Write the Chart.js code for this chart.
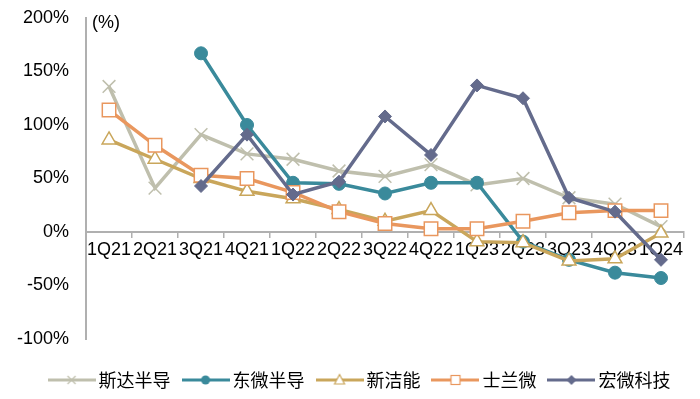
<!DOCTYPE html>
<html>
<head>
<meta charset="utf-8">
<script src="https://cdn.jsdelivr.net/npm/chart.js@4/dist/chart.umd.min.js"></script>
<style>
  body { margin: 0; background: #fff; }
</style>
</head>
<body>
<canvas id="growthChart" width="700" height="399"></canvas>
<script>
const categories = ['1Q21', '2Q21', '3Q21', '4Q21', '1Q22', '2Q22', '3Q22', '4Q22', '1Q23', '2Q23', '3Q23', '4Q23', '1Q24'];
const sidaValues = [136, 41, 91, 73, 68, 57, 52, 63, 44, 50, 32, 26, 5];
const dongweiValues = [null, null, 167, 100, 46, 45, 36, 46, 46, -9, -26, -38, -43];
const xinjienengValues = [86, 68, 50, 38, 31, 21, 10, 20, -9, -10, -27, -25, -1];
const silanValues = [114, 81, 53, 50, 37, 19, 8, 3, 3, 10, 18, 20, 20];
const hongweiValues = [null, null, 43, 91, 35, 47, 108, 72, 137, 125, 32, 19, -26];
const yTicks = [-100, -50, 0, 50, 100, 150, 200];

const latin = "'Liberation Sans', Arial, sans-serif";
const cjk = "'Noto Sans CJK SC', sans-serif";

// small canvas used as legend symbol: line + marker
function legendIcon(color, marker) {
    const c = document.createElement('canvas');
    c.width = 48;
    c.height = 16;
    const g = c.getContext('2d');
    g.strokeStyle = color;
    g.lineWidth = 3;
    g.beginPath();
    g.moveTo(0, 8);
    g.lineTo(48, 8);
    g.stroke();
    g.lineWidth = 1.2;
    g.fillStyle = color;
    if (marker === 'cross') {
        g.beginPath();
        g.moveTo(20, 4); g.lineTo(28, 12);
        g.moveTo(28, 4); g.lineTo(20, 12);
        g.stroke();
    } else if (marker === 'circle') {
        g.beginPath();
        g.arc(24, 8, 4.5, 0, Math.PI * 2);
        g.fill();
    } else if (marker === 'triangle') {
        g.fillStyle = '#fff';
        g.beginPath();
        g.moveTo(24, 2.5); g.lineTo(29, 12); g.lineTo(19, 12); g.closePath();
        g.fill(); g.stroke();
    } else if (marker === 'rect') {
        g.fillStyle = '#fff';
        g.fillRect(19.5, 3.5, 9, 9);
        g.strokeRect(19.5, 3.5, 9, 9);
    } else if (marker === 'diamond') {
        g.beginPath();
        g.moveTo(24, 3); g.lineTo(29, 8); g.lineTo(24, 13); g.lineTo(19, 8); g.closePath();
        g.fill();
    }
    return c;
}

const icons = [
    legendIcon('#bfbfad', 'cross'),
    legendIcon('#3a8a9b', 'circle'),
    legendIcon('#c9a65b', 'triangle'),
    legendIcon('#e9975e', 'rect'),
    legendIcon('#646b8c', 'diamond')
];

const percentLabel = {
    id: 'percentLabel',
    afterLayout(chart) {
        // move legend down/right to sit where the original has it
        const lg = chart.legend;
        lg.left += 20; lg.right += 20;
        lg.top += 15; lg.bottom += 15;
    },
    afterDraw(chart) {
        const ctx = chart.ctx;
        ctx.save();
        ctx.font = '18px ' + latin;
        ctx.fillStyle = '#000';
        ctx.textBaseline = 'middle';
        ctx.fillText('(%)', 92, 23);
        ctx.restore();
    }
};

const ctx = document.getElementById('growthChart').getContext('2d');
const growthChart = new Chart(ctx, {
    type: 'line',
    data: {
        labels: categories,
        datasets: [{
            label: '斯达半导',
            data: sidaValues,
            borderColor: '#bfbfad',
            backgroundColor: '#bfbfad',
            borderWidth: 3.5,
            pointStyle: 'crossRot',
            pointRadius: 9,
            pointBorderWidth: 1.5,
            order: 5
        }, {
            label: '东微半导',
            data: dongweiValues,
            borderColor: '#3a8a9b',
            backgroundColor: '#3a8a9b',
            borderWidth: 3.5,
            pointStyle: 'circle',
            pointRadius: 6.5,
            pointBorderWidth: 1,
            order: 4
        }, {
            label: '新洁能',
            data: xinjienengValues,
            borderColor: '#c9a65b',
            backgroundColor: '#ffffff',
            borderWidth: 3.5,
            pointStyle: 'triangle',
            pointRadius: 8,
            pointBorderWidth: 1.5,
            order: 3
        }, {
            label: '士兰微',
            data: silanValues,
            borderColor: '#e9975e',
            backgroundColor: '#ffffff',
            borderWidth: 3.5,
            pointStyle: 'rect',
            pointRadius: 9.5,
            pointBorderWidth: 1.5,
            order: 2
        }, {
            label: '宏微科技',
            data: hongweiValues,
            borderColor: '#646b8c',
            backgroundColor: '#646b8c',
            borderWidth: 3.5,
            pointStyle: 'rectRot',
            pointRadius: 6.5,
            pointBorderWidth: 1,
            order: 1
        }]
    },
    options: {
        responsive: false,
        animation: false,
        layout: {
            padding: { top: 18, left: 0, right: 16, bottom: 15 }
        },
        scales: {
            x: {
                type: 'category',
                position: { y: 0 },
                offset: true,
                afterFit: (scale) => {
                    scale.paddingLeft = 0;
                    scale.paddingRight = 0;
                },
                grid: {
                    display: true,
                    offset: true,
                    drawOnChartArea: false,
                    drawTicks: true,
                    tickLength: 5,
                    color: '#b0b0b0',
                    lineWidth: 1.5
                },
                border: { display: true, color: '#b0b0b0', width: 2 },
                ticks: {
                    autoSkip: false,
                    maxRotation: 0,
                    minRotation: 0,
                    padding: 2,
                    color: '#000',
                    font: { family: latin, size: 18 }
                }
            },
            y: {
                min: -100,
                max: 200,
                afterBuildTicks: (scale) => {
                    scale.ticks = yTicks.map(v => ({ value: v }));
                },
                afterFit: (scale) => {
                    scale.paddingTop = 0;
                    scale.paddingBottom = 0;
                },
                grid: { display: false, drawTicks: false },
                border: { display: true, color: '#b0b0b0', width: 2 },
                ticks: {
                    padding: 17,
                    color: '#000',
                    font: { family: latin, size: 18 },
                    callback: function (value) {
                        return value + '%';
                    }
                }
            }
        },
        plugins: {
            tooltip: { enabled: false },
            legend: {
                display: true,
                position: 'bottom',
                labels: {
                    usePointStyle: true,
                    pointStyleWidth: 36,
                    padding: 17,
                    color: '#000',
                    font: { family: cjk, size: 18 },
                    sort: (a, b) => a.datasetIndex - b.datasetIndex,
                    generateLabels: function (chart) {
                        const items = Chart.defaults.plugins.legend.labels.generateLabels(chart);
                        items.forEach(item => {
                            item.pointStyle = icons[item.datasetIndex];
                        });
                        return items;
                    }
                }
            }
        }
    },
    plugins: [percentLabel]
});
</script>
</body>
</html>
